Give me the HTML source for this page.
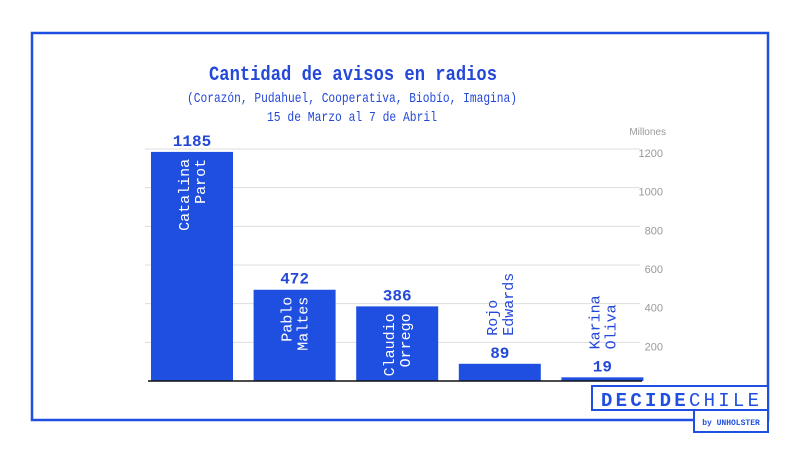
<!DOCTYPE html>
<html><head><meta charset="utf-8"><style>
body{margin:0;background:#fff;width:800px;height:450px;overflow:hidden}
svg{display:block}
</style></head><body>
<svg id="chart" width="800" height="450" font-family="Liberation Mono, monospace">
<rect x="32" y="33" width="736" height="387" fill="none" stroke="#1f4fe0" stroke-width="2.5"/>
<text x="353" y="80" text-anchor="middle" font-size="20" font-weight="bold" fill="#2448d8" textLength="288" lengthAdjust="spacingAndGlyphs">Cantidad de avisos en radios</text>
<text x="352" y="102" text-anchor="middle" font-size="14" fill="#2448d8" textLength="330" lengthAdjust="spacingAndGlyphs">(Corazón, Pudahuel, Cooperativa, Biobío, Imagina)</text>
<text x="352" y="121" text-anchor="middle" font-size="14" fill="#2448d8" textLength="170" lengthAdjust="spacingAndGlyphs">15 de Marzo al 7 de Abril</text>
<text x="666" y="135" text-anchor="end" font-size="10" fill="#999" font-family="Liberation Sans, sans-serif">Millones</text>
<g id="grid"></g><g id="bars"></g>
<line x1="148" y1="381" x2="642" y2="381" stroke="#111" stroke-width="1.5"/>
<rect x="592" y="386" width="176" height="24" fill="#fff" stroke="#1f4fe0" stroke-width="2"/>
<text x="680" y="406" text-anchor="middle" font-size="19" fill="#1f4fe0" textLength="158" lengthAdjust="spacing"><tspan font-weight="bold">DECIDE</tspan>CHILE</text>
<rect x="694" y="410" width="74" height="22" fill="#fff" stroke="#1f4fe0" stroke-width="2"/>
<text x="731" y="425" text-anchor="middle" font-size="8" font-weight="bold" fill="#1f4fe0">by UNHOLSTER</text>
</svg>
<script>
const categories=[["Catalina","Parot"],["Pablo","Maltes"],["Claudio","Orrego"],["Rojo","Edwards"],["Karina","Oliva"]];
const values=[1185,472,386,89,19];
const ticks=[200,400,600,800,1000,1200];
const NS="http://www.w3.org/2000/svg";
const y0=381,pxPer=232/1200;
function y(v){return y0-v*pxPer;}
function x(i){return 151+i*102.6;}
const bw=82;
function mk(t,a,p,txt){const e=document.createElementNS(NS,t);for(const k in a)e.setAttribute(k,a[k]);if(txt!==undefined)e.textContent=txt;p.appendChild(e);return e;}
const grid=document.getElementById('grid'),bars=document.getElementById('bars');
ticks.forEach(t=>{
 const l=mk('line',{x1:145,x2:640,y1:y(t),y2:y(t),stroke:'#ddd','stroke-width':1},grid);
 
 
 const tx=mk('text',{x:663,y:y(t)+8,'text-anchor':'end','font-size':11,fill:'#999','font-family':'Liberation Sans, sans-serif'},grid,String(t));
 
 
});
values.forEach((v,i)=>{
 const r=mk('rect',{x:x(i),y:y(v),width:bw,height:y0-y(v),fill:'#1f4fe0'},bars);
 
 
 const cx=x(i)+bw/2;
 const vl=mk('text',{x:cx,y:y(v)-6,'text-anchor':'middle','font-size':16,'font-weight':'bold',fill:'#2448d8'},bars,String(v));
 
 
 const inside=(y0-y(v))>50;
 const g=mk('g',{},bars);
 
 
 let ax,ay,anchor;
 if(inside){ax=cx;ay=y(v)+7;anchor='end';}
 else{ax=cx;ay=y(v)-28;anchor='start';}
 const t=mk('text',{transform:`translate(${ax},${ay}) rotate(-90)`,'text-anchor':anchor,'font-size':15,fill:inside?'#fff':'#2448d8'},g);
 
 
 categories[i].forEach((w,j)=>{
  mk('tspan',{x:0,dy:j==0?-3:16},t,w);
 });
});
</script>
</body></html>
